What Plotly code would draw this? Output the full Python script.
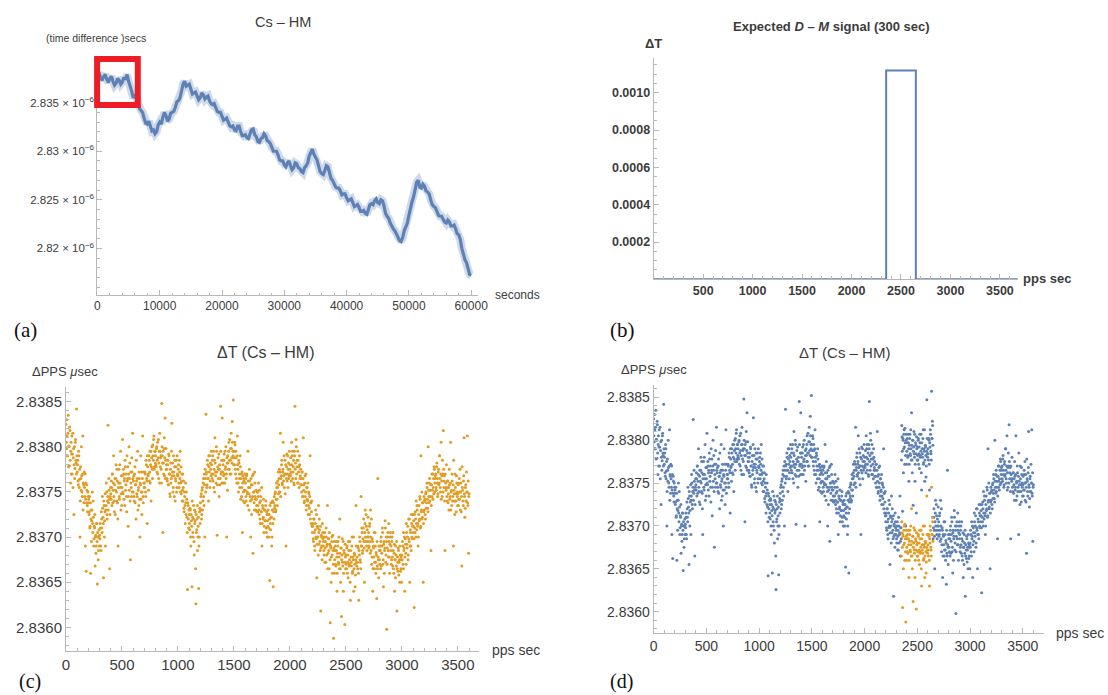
import plotly.graph_objects as go

# ---------------------------------------------------------------------------
# (a) Cs - HM time difference over the whole run (µs)
#   cs_hm_us     - readings at 0, 500, 1000, ... 60000 s
#   cs_hm_mid_us - readings at 250, 750, ... 59750 s
# ---------------------------------------------------------------------------
run_seconds = list(range(0, 60001, 500))
cs_hm_us = [
    2.8378, 2.8376, 2.8377, 2.8374, 2.8375, 2.8372, 2.8370, 2.8373, 2.8371, 2.8374,
    2.8372, 2.8362, 2.8357, 2.8350, 2.8342, 2.8334, 2.8328, 2.8326, 2.8322, 2.8320,
    2.8330, 2.8335, 2.8337, 2.8333, 2.8340, 2.8345, 2.8352, 2.8362, 2.8372, 2.8368,
    2.8364, 2.8360, 2.8357, 2.8355, 2.8358, 2.8356, 2.8352, 2.8348, 2.8345, 2.8340,
    2.8336, 2.8333, 2.8330, 2.8325, 2.8322, 2.8326, 2.8320, 2.8316, 2.8314, 2.8318,
    2.8323, 2.8315, 2.8309, 2.8314, 2.8316, 2.8310, 2.8304, 2.8300, 2.8296, 2.8290,
    2.8286, 2.8288, 2.8285, 2.8283, 2.8287, 2.8282, 2.8278, 2.8285, 2.8295, 2.8302,
    2.8294, 2.8285, 2.8277, 2.8280, 2.8284, 2.8272, 2.8267, 2.8262, 2.8259, 2.8256,
    2.8252, 2.8250, 2.8247, 2.8244, 2.8242, 2.8238, 2.8236, 2.8240, 2.8246, 2.8249,
    2.8247, 2.8250, 2.8244, 2.8233, 2.8226, 2.8220, 2.8214, 2.8208, 2.8211, 2.8222,
    2.8234, 2.8248, 2.8262, 2.8270, 2.8262, 2.8264, 2.8258, 2.8250, 2.8243, 2.8238,
    2.8233, 2.8230, 2.8226, 2.8227, 2.8223, 2.8220, 2.8214, 2.8200, 2.8188, 2.8178,
    2.8172,
]
run_mid_seconds = [k * 500 + 250 for k in range(120)]
cs_hm_mid_us = [
    2.8381, 2.8373, 2.8379, 2.8371, 2.8377, 2.8368, 2.8375, 2.8369, 2.8376, 2.8379,
    2.8368, 2.8355, 2.8356, 2.8344, 2.8340, 2.8329, 2.8331, 2.8321, 2.8318, 2.8327,
    2.8328, 2.8340, 2.8331, 2.8339, 2.8341, 2.8351, 2.8355, 2.8369, 2.8367, 2.8369,
    2.8359, 2.8361, 2.8353, 2.8360, 2.8354, 2.8357, 2.8349, 2.8349, 2.8341, 2.8340,
    2.8332, 2.8334, 2.8326, 2.8326, 2.8321, 2.8326, 2.8316, 2.8317, 2.8313, 2.8322,
    2.8317, 2.8310, 2.8313, 2.8318, 2.8311, 2.8308, 2.8300, 2.8300, 2.8291, 2.8290,
    2.8284, 2.8290, 2.8281, 2.8288, 2.8283, 2.8279, 2.8283, 2.8288, 2.8299, 2.8297,
    2.8291, 2.8279, 2.8276, 2.8285, 2.8276, 2.8270, 2.8263, 2.8262, 2.8255, 2.8256,
    2.8249, 2.8251, 2.8243, 2.8245, 2.8238, 2.8239, 2.8235, 2.8245, 2.8245, 2.8251,
    2.8246, 2.8249, 2.8236, 2.8231, 2.8222, 2.8218, 2.8210, 2.8207, 2.8218, 2.8226,
    2.8243, 2.8253, 2.8268, 2.8263, 2.8266, 2.8259, 2.8256, 2.8245, 2.8242, 2.8234,
    2.8233, 2.8227, 2.8229, 2.8223, 2.8224, 2.8215, 2.8209, 2.8192, 2.8185, 2.8173,
]
a_tick_mantissas = ["2.82", "2.825", "2.83", "2.835"]
a_x_ticks = [0, 10000, 20000, 30000, 40000, 50000, 60000]

# ---------------------------------------------------------------------------
# (b) expected D - M signal: a 300 s step
# ---------------------------------------------------------------------------
signal_edges = [0, 2350, 2650, 3680]
signal_levels = [0.0, 0.00112, 0.0, 0.0]
b_y_ticks = [0.0002, 0.0004, 0.0006, 0.0008, 0.0010]
b_x_ticks = [500, 1000, 1500, 2000, 2500, 3000, 3500]

# ---------------------------------------------------------------------------
# (c)/(d) PPS difference Cs - HM over one hour (µs):
#   pps_us      - readings at 0, 5, 10, ... 3600 s
#   pps_mid_us  - readings at 2.5, 7.5, ... 3597.5 s
# ---------------------------------------------------------------------------
pps_seconds = list(range(0, 3601, 5))
pps_us = [
    2.83825, 2.83798, 2.83812, 2.83790, 2.83835, 2.83801, 2.83779, 2.83818, 2.83760, 2.83805,
    2.83792, 2.83770, 2.83815, 2.83788, 2.83725, 2.83800, 2.83776, 2.83808, 2.83782, 2.83842,
    2.83772, 2.83785, 2.83758, 2.83790, 2.83764, 2.83700, 2.83778, 2.83752, 2.83768, 2.83745,
    2.83812, 2.83760, 2.83738, 2.83755, 2.83770, 2.83742, 2.83662, 2.83758, 2.83735, 2.83750,
    2.83738, 2.83725, 2.83745, 2.83712, 2.83660, 2.83730, 2.83718, 2.83750, 2.83705, 2.83722,
    2.83698, 2.83710, 2.83668, 2.83702, 2.83690, 2.83715, 2.83648, 2.83700, 2.83685, 2.83708,
    2.83702, 2.83715, 2.83690, 2.83728, 2.83710, 2.83745, 2.83722, 2.83655, 2.83735, 2.83718,
    2.83748, 2.83730, 2.83760, 2.83725, 2.83740, 2.83824, 2.83738, 2.83752, 2.83665, 2.83745,
    2.83748, 2.83762, 2.83735, 2.83770, 2.83752, 2.83790, 2.83740, 2.83758, 2.83725, 2.83765,
    2.83750, 2.83775, 2.83738, 2.83690, 2.83760, 2.83745, 2.83780, 2.83755, 2.83730, 2.83768,
    2.83755, 2.83808, 2.83748, 2.83770, 2.83762, 2.83735, 2.83778, 2.83758, 2.83745, 2.83790,
    2.83765, 2.83712, 2.83770, 2.83752, 2.83782, 2.83675, 2.83760, 2.83745, 2.83772, 2.83815,
    2.83750, 2.83768, 2.83740, 2.83778, 2.83758, 2.83720, 2.83762, 2.83745, 2.83795, 2.83752,
    2.83735, 2.83765, 2.83700, 2.83758, 2.83742, 2.83772, 2.83750, 2.83812, 2.83738, 2.83760,
    2.83760, 2.83772, 2.83750, 2.83785, 2.83765, 2.83715, 2.83778, 2.83770, 2.83790, 2.83762,
    2.83795, 2.83780, 2.83740, 2.83788, 2.83775, 2.83802, 2.83785, 2.83812, 2.83778, 2.83795,
    2.83790, 2.83778, 2.83800, 2.83785, 2.83770, 2.83808, 2.83782, 2.83760, 2.83795, 2.83788,
    2.83775, 2.83848, 2.83790, 2.83705, 2.83782, 2.83798, 2.83768, 2.83832, 2.83785, 2.83775,
    2.83775, 2.83762, 2.83785, 2.83758, 2.83790, 2.83770, 2.83745, 2.83782, 2.83765, 2.83826,
    2.83772, 2.83750, 2.83790, 2.83768, 2.83778, 2.83740, 2.83762, 2.83785, 2.83755, 2.83770,
    2.83768, 2.83780, 2.83755, 2.83772, 2.83795, 2.83760, 2.83748, 2.83770, 2.83752, 2.83740,
    2.83762, 2.83728, 2.83745, 2.83715, 2.83738, 2.83750, 2.83722, 2.83642, 2.83735, 2.83710,
    2.83725, 2.83708, 2.83730, 2.83690, 2.83718, 2.83645, 2.83722, 2.83700, 2.83735, 2.83680,
    2.83715, 2.83728, 2.83626, 2.83705, 2.83720, 2.83685, 2.83712, 2.83643, 2.83700, 2.83732,
    2.83738, 2.83745, 2.83720, 2.83752, 2.83730, 2.83760, 2.83745, 2.83770, 2.83700, 2.83765,
    2.83836, 2.83772, 2.83758, 2.83780, 2.83765, 2.83790, 2.83772, 2.83755, 2.83782, 2.83768,
    2.83780, 2.83765, 2.83790, 2.83770, 2.83755, 2.83785, 2.83810, 2.83772, 2.83760, 2.83795,
    2.83702, 2.83778, 2.83765, 2.83792, 2.83775, 2.83758, 2.83845, 2.83770, 2.83785, 2.83832,
    2.83772, 2.83760, 2.83785, 2.83770, 2.83795, 2.83778, 2.83765, 2.83700, 2.83782, 2.83790,
    2.83775, 2.83805, 2.83785, 2.83770, 2.83798, 2.83815, 2.83788, 2.83828, 2.83795, 2.83852,
    2.83795, 2.83780, 2.83802, 2.83770, 2.83788, 2.83760, 2.83812, 2.83775, 2.83750, 2.83782,
    2.83765, 2.83790, 2.83742, 2.83770, 2.83755, 2.83705, 2.83768, 2.83750, 2.83762, 2.83738,
    2.83752, 2.83765, 2.83740, 2.83770, 2.83748, 2.83795, 2.83755, 2.83730, 2.83762, 2.83745,
    2.83700, 2.83758, 2.83742, 2.83768, 2.83682, 2.83750, 2.83738, 2.83772, 2.83745, 2.83730,
    2.83742, 2.83728, 2.83750, 2.83735, 2.83760, 2.83725, 2.83738, 2.83715, 2.83745, 2.83728,
    2.83690, 2.83735, 2.83720, 2.83742, 2.83712, 2.83730, 2.83718, 2.83740, 2.83705, 2.83725,
    2.83718, 2.83730, 2.83710, 2.83725, 2.83652, 2.83715, 2.83738, 2.83722, 2.83700, 2.83740,
    2.83645, 2.83728, 2.83745, 2.83735, 2.83750, 2.83730, 2.83760, 2.83742, 2.83755, 2.83772,
    2.83758, 2.83775, 2.83750, 2.83815, 2.83765, 2.83780, 2.83760, 2.83772, 2.83805, 2.83768,
    2.83755, 2.83785, 2.83770, 2.83690, 2.83778, 2.83762, 2.83790, 2.83775, 2.83765, 2.83795,
    2.83780, 2.83768, 2.83772, 2.83805, 2.83790, 2.83765, 2.83778, 2.83760, 2.83795, 2.83845,
    2.83782, 2.83808, 2.83770, 2.83785, 2.83795, 2.83760, 2.83778, 2.83790, 2.83765, 2.83775,
    2.83765, 2.83750, 2.83772, 2.83745, 2.83810, 2.83758, 2.83740, 2.83768, 2.83750, 2.83730,
    2.83755, 2.83742, 2.83760, 2.83735, 2.83748, 2.83725, 2.83790, 2.83738, 2.83715, 2.83740,
    2.83705, 2.83715, 2.83695, 2.83720, 2.83690, 2.83708, 2.83730, 2.83698, 2.83655, 2.83712,
    2.83700, 2.83735, 2.83692, 2.83708, 2.83685, 2.83618, 2.83702, 2.83690, 2.83715, 2.83698,
    2.83695, 2.83680, 2.83705, 2.83688, 2.83672, 2.83700, 2.83690, 2.83735, 2.83682, 2.83698,
    2.83665, 2.83692, 2.83605, 2.83688, 2.83678, 2.83700, 2.83660, 2.83685, 2.83588, 2.83695,
    2.83675, 2.83690, 2.83668, 2.83685, 2.83640, 2.83682, 2.83695, 2.83670, 2.83678, 2.83720,
    2.83665, 2.83688, 2.83612, 2.83680, 2.83672, 2.83695, 2.83660, 2.83682, 2.83603, 2.83678,
    2.83680, 2.83665, 2.83690, 2.83672, 2.83655, 2.83685, 2.83670, 2.83695, 2.83630, 2.83678,
    2.83668, 2.83700, 2.83662, 2.83675, 2.83640, 2.83682, 2.83670, 2.83658, 2.83735, 2.83672,
    2.83678, 2.83665, 2.83688, 2.83630, 2.83680, 2.83695, 2.83672, 2.83745, 2.83690, 2.83705,
    2.83685, 2.83710, 2.83695, 2.83650, 2.83715, 2.83700, 2.83725, 2.83690, 2.83708, 2.83695,
    2.83700, 2.83688, 2.83712, 2.83695, 2.83730, 2.83685, 2.83670, 2.83698, 2.83640, 2.83690,
    2.83678, 2.83665, 2.83705, 2.83672, 2.83683, 2.83632, 2.83668, 2.83765, 2.83675, 2.83690,
    2.83675, 2.83690, 2.83665, 2.83700, 2.83682, 2.83710, 2.83670, 2.83645, 2.83695, 2.83685,
    2.83718, 2.83672, 2.83700, 2.83598, 2.83688, 2.83705, 2.83678, 2.83695, 2.83660, 2.83700,
    2.83685, 2.83670, 2.83695, 2.83678, 2.83705, 2.83665, 2.83682, 2.83640, 2.83675, 2.83690,
    2.83668, 2.83618, 2.83678, 2.83662, 2.83685, 2.83672, 2.83650, 2.83680, 2.83665, 2.83675,
    2.83680, 2.83695, 2.83670, 2.83705, 2.83688, 2.83640, 2.83698, 2.83682, 2.83715, 2.83692,
    2.83700, 2.83675, 2.83720, 2.83695, 2.83650, 2.83708, 2.83690, 2.83725, 2.83700, 2.83712,
    2.83705, 2.83718, 2.83622, 2.83710, 2.83728, 2.83700, 2.83715, 2.83735, 2.83712, 2.83690,
    2.83725, 2.83718, 2.83745, 2.83710, 2.83790, 2.83730, 2.83720, 2.83738, 2.83650, 2.83728,
    2.83730, 2.83742, 2.83720, 2.83750, 2.83738, 2.83755, 2.83732, 2.83800, 2.83745, 2.83760,
    2.83740, 2.83752, 2.83685, 2.83758, 2.83745, 2.83770, 2.83755, 2.83748, 2.83775, 2.83760,
    2.83765, 2.83755, 2.83778, 2.83760, 2.83745, 2.83772, 2.83758, 2.83790, 2.83765, 2.83750,
    2.83805, 2.83762, 2.83745, 2.83770, 2.83818, 2.83755, 2.83768, 2.83685, 2.83760, 2.83752,
    2.83755, 2.83740, 2.83762, 2.83748, 2.83730, 2.83758, 2.83745, 2.83805, 2.83750, 2.83735,
    2.83762, 2.83745, 2.83690, 2.83752, 2.83740, 2.83770, 2.83748, 2.83728, 2.83760, 2.83745,
    2.83748, 2.83735, 2.83760, 2.83742, 2.83775, 2.83750, 2.83728, 2.83668, 2.83755, 2.83740,
    2.83762, 2.83810, 2.83745, 2.83732, 2.83758, 2.83740, 2.83750, 2.83812, 2.83735, 2.83682,
    2.83748,
]
pps_mid_seconds = [k * 5 + 2.5 for k in range(720)]
pps_mid_us = [
    2.83805, 2.83830, 2.83790, 2.83815, 2.83778, 2.83800, 2.83822, 2.83785, 2.83795, 2.83770,
    2.83812, 2.83792, 2.83755, 2.83798, 2.83780, 2.83765, 2.83805, 2.83785, 2.83770, 2.83790,
    2.83780, 2.83762, 2.83795, 2.83755, 2.83775, 2.83740, 2.83765, 2.83800, 2.83750, 2.83770,
    2.83730, 2.83758, 2.83772, 2.83745, 2.83690, 2.83760, 2.83738, 2.83752, 2.83728, 2.83745,
    2.83742, 2.83728, 2.83710, 2.83738, 2.83720, 2.83695, 2.83730, 2.83715, 2.83740, 2.83690,
    2.83712, 2.83725, 2.83700, 2.83682, 2.83715, 2.83695, 2.83705, 2.83675, 2.83700, 2.83690,
    2.83698, 2.83710, 2.83685, 2.83720, 2.83705, 2.83732, 2.83715, 2.83740, 2.83700, 2.83728,
    2.83690, 2.83735, 2.83750, 2.83720, 2.83745, 2.83730, 2.83765, 2.83742, 2.83725, 2.83755,
    2.83742, 2.83755, 2.83770, 2.83738, 2.83760, 2.83745, 2.83728, 2.83765, 2.83752, 2.83780,
    2.83740, 2.83762, 2.83720, 2.83755, 2.83775, 2.83742, 2.83760, 2.83795, 2.83748, 2.83735,
    2.83768, 2.83750, 2.83775, 2.83742, 2.83765, 2.83785, 2.83752, 2.83770, 2.83728, 2.83762,
    2.83778, 2.83745, 2.83800, 2.83765, 2.83740, 2.83772, 2.83755, 2.83788, 2.83750, 2.83765,
    2.83762, 2.83745, 2.83770, 2.83738, 2.83758, 2.83785, 2.83748, 2.83765, 2.83730, 2.83755,
    2.83772, 2.83742, 2.83760, 2.83790, 2.83750, 2.83725, 2.83765, 2.83745, 2.83772, 2.83755,
    2.83755, 2.83770, 2.83745, 2.83780, 2.83762, 2.83790, 2.83768, 2.83752, 2.83785, 2.83772,
    2.83760, 2.83795, 2.83778, 2.83800, 2.83765, 2.83790, 2.83808, 2.83775, 2.83795, 2.83782,
    2.83780, 2.83798, 2.83772, 2.83805, 2.83788, 2.83765, 2.83795, 2.83815, 2.83778, 2.83790,
    2.83760, 2.83800, 2.83782, 2.83795, 2.83770, 2.83810, 2.83788, 2.83765, 2.83798, 2.83780,
    2.83765, 2.83780, 2.83758, 2.83792, 2.83770, 2.83748, 2.83775, 2.83760, 2.83795, 2.83768,
    2.83782, 2.83755, 2.83772, 2.83745, 2.83785, 2.83765, 2.83778, 2.83750, 2.83790, 2.83768,
    2.83775, 2.83760, 2.83785, 2.83765, 2.83750, 2.83778, 2.83762, 2.83740, 2.83770, 2.83755,
    2.83732, 2.83750, 2.83735, 2.83760, 2.83725, 2.83742, 2.83705, 2.83738, 2.83720, 2.83730,
    2.83715, 2.83732, 2.83700, 2.83725, 2.83712, 2.83740, 2.83705, 2.83720, 2.83695, 2.83730,
    2.83718, 2.83665, 2.83725, 2.83708, 2.83735, 2.83700, 2.83722, 2.83690, 2.83728, 2.83715,
    2.83730, 2.83748, 2.83725, 2.83755, 2.83740, 2.83765, 2.83735, 2.83758, 2.83775, 2.83750,
    2.83770, 2.83755, 2.83785, 2.83765, 2.83740, 2.83778, 2.83790, 2.83762, 2.83775, 2.83795,
    2.83770, 2.83785, 2.83762, 2.83795, 2.83775, 2.83750, 2.83782, 2.83768, 2.83800, 2.83772,
    2.83758, 2.83788, 2.83775, 2.83745, 2.83780, 2.83765, 2.83795, 2.83772, 2.83760, 2.83785,
    2.83780, 2.83768, 2.83792, 2.83760, 2.83775, 2.83800, 2.83770, 2.83788, 2.83752, 2.83782,
    2.83795, 2.83775, 2.83808, 2.83785, 2.83770, 2.83798, 2.83782, 2.83805, 2.83790, 2.83780,
    2.83788, 2.83805, 2.83775, 2.83795, 2.83765, 2.83790, 2.83780, 2.83760, 2.83785, 2.83770,
    2.83755, 2.83778, 2.83765, 2.83745, 2.83772, 2.83760, 2.83740, 2.83765, 2.83752, 2.83770,
    2.83760, 2.83745, 2.83768, 2.83750, 2.83735, 2.83762, 2.83748, 2.83775, 2.83755, 2.83740,
    2.83765, 2.83725, 2.83758, 2.83745, 2.83770, 2.83750, 2.83730, 2.83760, 2.83742, 2.83752,
    2.83735, 2.83750, 2.83728, 2.83745, 2.83730, 2.83752, 2.83720, 2.83740, 2.83728, 2.83755,
    2.83715, 2.83732, 2.83722, 2.83705, 2.83730, 2.83718, 2.83735, 2.83710, 2.83728, 2.83700,
    2.83712, 2.83725, 2.83700, 2.83720, 2.83735, 2.83708, 2.83722, 2.83690, 2.83730, 2.83715,
    2.83738, 2.83720, 2.83732, 2.83748, 2.83728, 2.83742, 2.83755, 2.83735, 2.83762, 2.83748,
    2.83765, 2.83750, 2.83772, 2.83745, 2.83768, 2.83785, 2.83758, 2.83775, 2.83762, 2.83790,
    2.83770, 2.83748, 2.83780, 2.83765, 2.83792, 2.83770, 2.83755, 2.83782, 2.83768, 2.83775,
    2.83770, 2.83788, 2.83762, 2.83780, 2.83795, 2.83772, 2.83785, 2.83758, 2.83790, 2.83775,
    2.83765, 2.83800, 2.83778, 2.83760, 2.83785, 2.83772, 2.83755, 2.83780, 2.83768, 2.83758,
    2.83758, 2.83772, 2.83745, 2.83765, 2.83752, 2.83738, 2.83760, 2.83745, 2.83770, 2.83735,
    2.83755, 2.83740, 2.83725, 2.83750, 2.83732, 2.83745, 2.83720, 2.83738, 2.83728, 2.83712,
    2.83712, 2.83698, 2.83720, 2.83705, 2.83685, 2.83715, 2.83700, 2.83725, 2.83692, 2.83710,
    2.83680, 2.83705, 2.83720, 2.83695, 2.83712, 2.83688, 2.83700, 2.83675, 2.83705, 2.83690,
    2.83685, 2.83700, 2.83672, 2.83695, 2.83710, 2.83680, 2.83692, 2.83665, 2.83698, 2.83685,
    2.83705, 2.83675, 2.83690, 2.83650, 2.83695, 2.83680, 2.83702, 2.83670, 2.83688, 2.83660,
    2.83685, 2.83670, 2.83695, 2.83678, 2.83660, 2.83690, 2.83672, 2.83700, 2.83665, 2.83682,
    2.83650, 2.83688, 2.83675, 2.83698, 2.83668, 2.83640, 2.83685, 2.83672, 2.83692, 2.83665,
    2.83670, 2.83688, 2.83660, 2.83680, 2.83695, 2.83668, 2.83675, 2.83650, 2.83685, 2.83672,
    2.83690, 2.83660, 2.83678, 2.83700, 2.83665, 2.83680, 2.83645, 2.83675, 2.83690, 2.83668,
    2.83672, 2.83690, 2.83660, 2.83685, 2.83700, 2.83675, 2.83665, 2.83690, 2.83710, 2.83682,
    2.83698, 2.83720, 2.83688, 2.83705, 2.83730, 2.83695, 2.83712, 2.83685, 2.83700, 2.83722,
    2.83705, 2.83690, 2.83715, 2.83682, 2.83700, 2.83720, 2.83678, 2.83695, 2.83665, 2.83688,
    2.83705, 2.83672, 2.83690, 2.83660, 2.83680, 2.83695, 2.83665, 2.83678, 2.83655, 2.83685,
    2.83670, 2.83685, 2.83695, 2.83668, 2.83690, 2.83705, 2.83675, 2.83692, 2.83660, 2.83688,
    2.83710, 2.83680, 2.83695, 2.83670, 2.83700, 2.83685, 2.83715, 2.83678, 2.83692, 2.83705,
    2.83690, 2.83675, 2.83700, 2.83668, 2.83685, 2.83660, 2.83692, 2.83675, 2.83655, 2.83680,
    2.83695, 2.83665, 2.83672, 2.83688, 2.83658, 2.83675, 2.83690, 2.83662, 2.83678, 2.83650,
    2.83675, 2.83690, 2.83665, 2.83685, 2.83700, 2.83678, 2.83692, 2.83670, 2.83705, 2.83688,
    2.83712, 2.83680, 2.83698, 2.83720, 2.83690, 2.83705, 2.83685, 2.83715, 2.83698, 2.83725,
    2.83712, 2.83698, 2.83725, 2.83705, 2.83720, 2.83740, 2.83708, 2.83730, 2.83715, 2.83700,
    2.83735, 2.83720, 2.83742, 2.83712, 2.83728, 2.83750, 2.83722, 2.83738, 2.83715, 2.83745,
    2.83740, 2.83725, 2.83748, 2.83732, 2.83760, 2.83742, 2.83728, 2.83752, 2.83738, 2.83765,
    2.83745, 2.83758, 2.83735, 2.83770, 2.83752, 2.83742, 2.83765, 2.83778, 2.83750, 2.83768,
    2.83770, 2.83752, 2.83782, 2.83765, 2.83748, 2.83775, 2.83760, 2.83790, 2.83755, 2.83770,
    2.83742, 2.83768, 2.83785, 2.83750, 2.83775, 2.83762, 2.83740, 2.83770, 2.83755, 2.83780,
    2.83745, 2.83762, 2.83738, 2.83755, 2.83775, 2.83742, 2.83760, 2.83730, 2.83752, 2.83770,
    2.83740, 2.83758, 2.83785, 2.83748, 2.83725, 2.83755, 2.83740, 2.83768, 2.83750, 2.83735,
    2.83758, 2.83742, 2.83765, 2.83750, 2.83730, 2.83760, 2.83745, 2.83778, 2.83752, 2.83735,
    2.83768, 2.83748, 2.83722, 2.83755, 2.83740, 2.83772, 2.83750, 2.83738, 2.83762, 2.83745,
]
pps_y_ticks = [2.8360, 2.8365, 2.8370, 2.8375, 2.8380, 2.8385]
pps_x_ticks = [0, 500, 1000, 1500, 2000, 2500, 3000, 3500]

assert len(cs_hm_us) == len(run_seconds)
assert len(cs_hm_mid_us) == len(run_mid_seconds)
assert len(pps_us) == len(pps_seconds)
assert len(pps_mid_us) == len(pps_mid_seconds)

# ---------------------------------------------------------------------------
# styling
# ---------------------------------------------------------------------------
W, H = 1108, 695
BLUE = "#5E81B5"
ORANGE = "#E19C24"
AXIS = "#b8b8b8"
TEXT = "#3c3c3c"
SANS = "Liberation Sans, Arial, sans-serif"
SERIF = "Liberation Serif, Times New Roman, serif"
DOT = 3.0


def dom_x(left, right):
    return [left / W, right / W]


def dom_y(top, bottom):
    return [1 - bottom / H, 1 - top / H]


def axis(**kw):
    ax = dict(showline=True, linecolor=AXIS, linewidth=1, ticks="inside",
              ticklen=5, tickcolor=AXIS, tickwidth=1, showgrid=False,
              zeroline=False, fixedrange=True)
    ax.update(kw)
    return ax


def minor(step, length=3):
    return dict(ticks="inside", ticklen=length, tickcolor=AXIS, dtick=step)


# ---------------------------------------------------------------------------
# merge the interleaved readings into time order
# ---------------------------------------------------------------------------
run_all = sorted(zip(run_seconds + run_mid_seconds, cs_hm_us + cs_hm_mid_us))
a_x = [t for t, _ in run_all]
a_y = [v * 1e-6 for _, v in run_all]

pps_all = sorted(zip(pps_seconds + pps_mid_seconds, pps_us + pps_mid_us))
t_all = [t for t, _ in pps_all]
v_all = [v for _, v in pps_all]

# (d): the step signal added to the readings inside its window
win_start, win_end = signal_edges[1], signal_edges[2]
signal_amp = signal_levels[1]
in_window = [win_start <= t < win_end for t in t_all]
d_blue_y = [v + signal_amp if w else v for v, w in zip(v_all, in_window)]
d_orange_x = [t for t, w in zip(t_all, in_window) if w]
d_orange_y = [v for v, w in zip(v_all, in_window) if w]

fig = go.Figure()

# (a) the Cs - HM record, drawn as a fuzzy band
fig.add_trace(go.Scatter(x=a_x, y=a_y, mode="lines",
                         line=dict(color="rgba(94,129,181,0.30)", width=8),
                         xaxis="x", yaxis="y", hoverinfo="skip"))
fig.add_trace(go.Scatter(x=a_x, y=a_y, mode="lines",
                         line=dict(color=BLUE, width=3.2),
                         xaxis="x", yaxis="y"))

# (b) expected step
fig.add_trace(go.Scatter(x=signal_edges, y=signal_levels, mode="lines",
                         line=dict(color=BLUE, width=2, shape="hv"),
                         xaxis="x2", yaxis="y2"))

# (c) PPS readings
fig.add_trace(go.Scatter(x=t_all, y=v_all, mode="markers",
                         marker=dict(color=ORANGE, size=DOT),
                         xaxis="x3", yaxis="y3"))

# (d) readings with the signal injected, original window values in orange
fig.add_trace(go.Scatter(x=t_all, y=d_blue_y, mode="markers",
                         marker=dict(color=BLUE, size=DOT),
                         xaxis="x4", yaxis="y4"))
fig.add_trace(go.Scatter(x=d_orange_x, y=d_orange_y, mode="markers",
                         marker=dict(color=ORANGE, size=DOT),
                         xaxis="x4", yaxis="y4"))

a_tickvals = [float(m) * 1e-6 for m in a_tick_mantissas]
a_ticktext = [f"{m} × 10<sup>−6</sup>" for m in a_tick_mantissas]

fig.update_layout(
    width=W, height=H,
    margin=dict(l=0, r=0, t=0, b=0),
    paper_bgcolor="white", plot_bgcolor="white",
    showlegend=False,
    font=dict(family=SANS, color=TEXT),
    xaxis=axis(domain=dom_x(94.6, 480), range=[0, 61080], anchor="y",
               tickvals=a_x_ticks, tickformat="d",
               tickfont=dict(size=12, color=TEXT),
               minor=minor(2000, 2)),
    yaxis=axis(domain=dom_y(56.7, 295), range=[2.815189e-6, 2.839739e-6], anchor="x",
               tickvals=a_tickvals, ticktext=a_ticktext,
               tickfont=dict(size=11.5, color=TEXT),
               minor=dict(ticks="inside", ticklen=3, tickcolor=AXIS,
                          tick0=2.815e-6, dtick=1e-9)),
    xaxis2=axis(domain=dom_x(658, 1027), range=[0, 3683], anchor="y2",
                tickvals=b_x_ticks,
                tickfont=dict(size=12.5, color=TEXT, weight="bold"),
                minor=minor(100, 3)),
    yaxis2=axis(domain=dom_y(58, 279.3), range=[0, 0.0011866], anchor="x2",
                tickvals=b_y_ticks, tickformat=".4f",
                tickfont=dict(size=12.5, color=TEXT, weight="bold"),
                minor=minor(0.00005, 3)),
    xaxis3=axis(domain=dom_x(62.8, 481), range=[0, 3688], anchor="y3",
                tickvals=pps_x_ticks, tickfont=dict(size=15, color=TEXT),
                minor=minor(100, 3)),
    yaxis3=axis(domain=dom_y(386.7, 650.7), range=[2.835741, 2.838666], anchor="x3",
                tickvals=pps_y_ticks, tickformat=".4f",
                tickfont=dict(size=15, color=TEXT),
                minor=minor(0.0001, 3)),
    xaxis4=axis(domain=dom_x(658, 1053), range=[0, 3698], anchor="y4",
                tickvals=pps_x_ticks, tickfont=dict(size=14, color=TEXT),
                minor=minor(100, 3)),
    yaxis4=axis(domain=dom_y(385, 632.7), range=[2.835755, 2.838643], anchor="x4",
                tickvals=pps_y_ticks, tickformat=".4f",
                tickfont=dict(size=14, color=TEXT),
                minor=minor(0.0001, 3)),
)

# red box around the first hour of panel (a)
fig.add_shape(type="rect", xref="paper", yref="paper",
              x0=94.3 / W, x1=135.5 / W, y0=1 - 105 / H, y1=1 - 59 / H,
              line=dict(color="#EE1C24", width=6), fillcolor="rgba(0,0,0,0)",
              layer="above")


def note(text, x, y, size, anchor="center", color=TEXT, family=SANS, weight="normal"):
    fig.add_annotation(text=text, x=x / W, y=1 - y / H, xref="paper", yref="paper",
                       xanchor=anchor, yanchor="middle", showarrow=False,
                       font=dict(size=size, color=color, family=family, weight=weight))


# panel (a) texts
note("Cs – HM", 283, 22, 14.5)
note("(time difference )secs", 93, 38, 10.5)
note("seconds", 495, 295, 12, anchor="left")
note("(a)", 22, 330, 21, color="#111", family=SERIF)

# panel (b) texts
note("Expected <i>D</i> – <i>M</i> signal (300 sec)", 838, 26, 13, weight="bold")
note("ΔT", 658, 43, 13, weight="bold")
note("pps sec", 1030, 278, 13, anchor="left", weight="bold")
note("(b)", 626, 330, 21, color="#111", family=SERIF)

# panel (c) texts
note("ΔT (Cs – HM)", 265, 352, 16)
note("ΔPPS <i>μ</i>sec", 62, 371, 13)
note("pps sec", 492, 650, 14, anchor="left")
note("(c)", 26, 681, 20, color="#111", family=SERIF)

# panel (d) texts
note("ΔT (Cs – HM)", 851, 352, 15)
note("ΔPPS <i>μ</i>sec", 658, 369, 13)
note("pps sec", 1063, 633, 14, anchor="left")
note("(d)", 625, 681, 20, color="#111", family=SERIF)

fig.write_html("out.html")
